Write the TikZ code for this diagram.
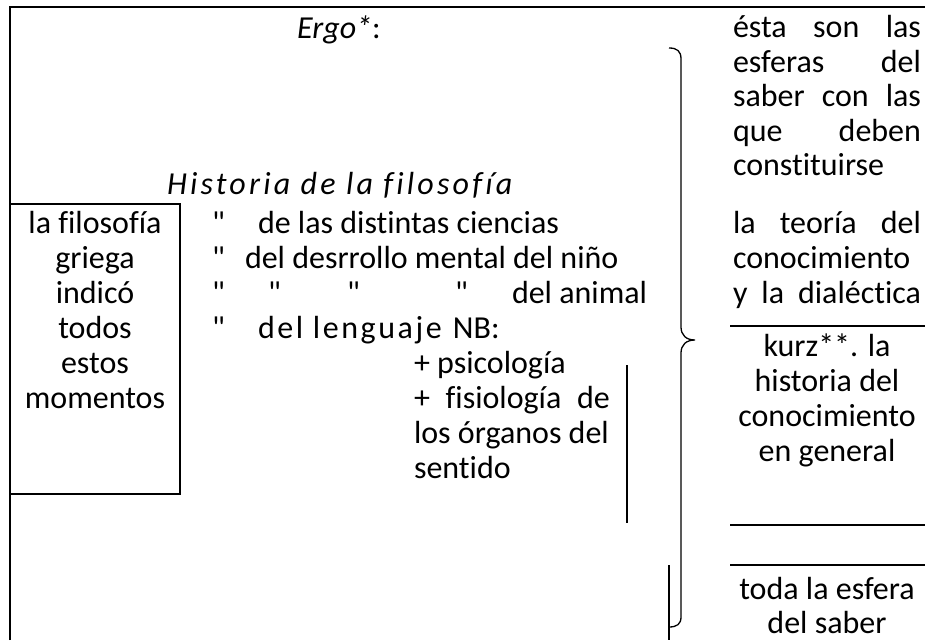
\documentclass[tikz,border=0pt]{standalone}
\usepackage{fontspec}
\newfontfamily\calfont{Carlito}[Ligatures=NoCommon]
\newcommand\jline[1]{\makebox[188pt][s]{#1}}
\newcommand\spaced{\addfontfeature{LetterSpace=10}}
\newcommand\spacedb{\addfontfeature{LetterSpace=8}}
\begin{document}
\begin{tikzpicture}[x=1pt,y=-1pt,
  every node/.style={inner sep=0pt, outer sep=0pt, font=\calfont\fontsize{32}{35}\selectfont},
  txt/.style={anchor=base west},
  ctr/.style={anchor=base},
  frameline/.style={line width=1.6pt},
  thinline/.style={line width=1.3pt}]
\useasboundingbox (0,0) rectangle (925,640);

% outer frame (left and top)
\coordinate (fbl) at (10,640);
\coordinate (ftl) at (10,7);
\coordinate (ftr) at (925,7);
\draw[frameline] (fbl) -- (ftl) -- (ftr);

% left box
\coordinate (lbtl) at (10,204);
\coordinate (lbbr) at (180,494);
\draw[frameline] (lbtl) rectangle (lbbr);
\node[ctr] (l1) at (95,233) {la filosofía};
\node[ctr] (l2) at (95,268) {griega};
\node[ctr] (l3) at (95,303) {indicó};
\node[ctr] (l4) at (95,338) {todos};
\node[ctr] (l5) at (95,373) {estos};
\node[ctr] (l6) at (95,408) {momentos};

% middle column
\node[txt] (ergo) at (297,38) {\textit{Ergo*}:};
\node[txt] (hist) at (167,194) {\itshape\spaced Historia de la filosofía};
\node[txt] (q1) at (212,233) {"};
\node[txt] (m1) at (258,233) {de las distintas ciencias};
\node[txt] (q2) at (212,268) {"};
\node[txt] (m2) at (245,268) {del desrrollo mental del niño};
\node[txt] (q3a) at (212,303) {"};
\node[txt] (q3b) at (268,303) {"};
\node[txt] (q3c) at (347,303) {"};
\node[txt] (q3d) at (455,303) {"};
\node[txt] (m3) at (512,303) {del animal};
\node[txt] (q4) at (212,338) {"};
\node[txt] (m4) at (258,338) {{\spacedb del lenguaje}\hspace{4pt} NB:};
\node[txt] (p1) at (414,373) {+ psicología};
\node[txt] (p2) at (414,408) {\makebox[196pt][s]{+ fisiología de}};
\node[txt] (p3) at (414,443) {los órganos del};
\node[txt] (p4) at (414,478) {sentido};
\coordinate (vl1) at (627,365);
\coordinate (vl2) at (627,523);
\draw[thinline] (vl1) -- (vl2);

% brace
\draw[thinline] (669,48) .. controls (677,48) and (681,51) .. (681,59)
  -- (681,327) .. controls (681,335) and (686,340) .. (695,340)
  .. controls (686,340) and (681,345) .. (681,353)
  -- (681,617) .. controls (681,624) and (677,627) .. (669,627);
\coordinate (bl1) at (669,565);
\coordinate (bl2) at (669,640);
\draw[thinline] (bl1) -- (bl2);

% right column
\node[txt] (r1) at (733,37) {\jline{ésta son las}};
\node[txt] (r2) at (733,72) {\jline{esferas del}};
\node[txt] (r3) at (733,106) {\jline{saber con las}};
\node[txt] (r4) at (733,141) {\jline{que deben}};
\node[txt] (r5) at (733,175) {constituirse};
\node[txt] (r6) at (733,233) {\jline{la teoría del}};
\node[txt] (r7) at (733,268) {\jline{conocimiento}};
\node[txt] (r8) at (733,303) {\jline{y la dialéctica}};
\coordinate (h1a) at (730,326);
\coordinate (h1b) at (925,326);
\draw[frameline] (h1a) -- (h1b);
\node[ctr] (k1) at (827,356) {kurz**. la};
\node[ctr] (k2) at (827,391) {historia del};
\node[ctr] (k3) at (827,426) {conocimiento};
\node[ctr] (k4) at (827,461) {en general};
\coordinate (h2a) at (730,525);
\coordinate (h2b) at (925,525);
\draw[frameline] (h2a) -- (h2b);
\coordinate (h3a) at (730,565);
\coordinate (h3b) at (925,565);
\draw[frameline] (h3a) -- (h3b);
\node[ctr] (t1) at (827,599) {toda la esfera};
\node[ctr] (t2) at (827,633) {del saber};
\end{tikzpicture}
\end{document}
